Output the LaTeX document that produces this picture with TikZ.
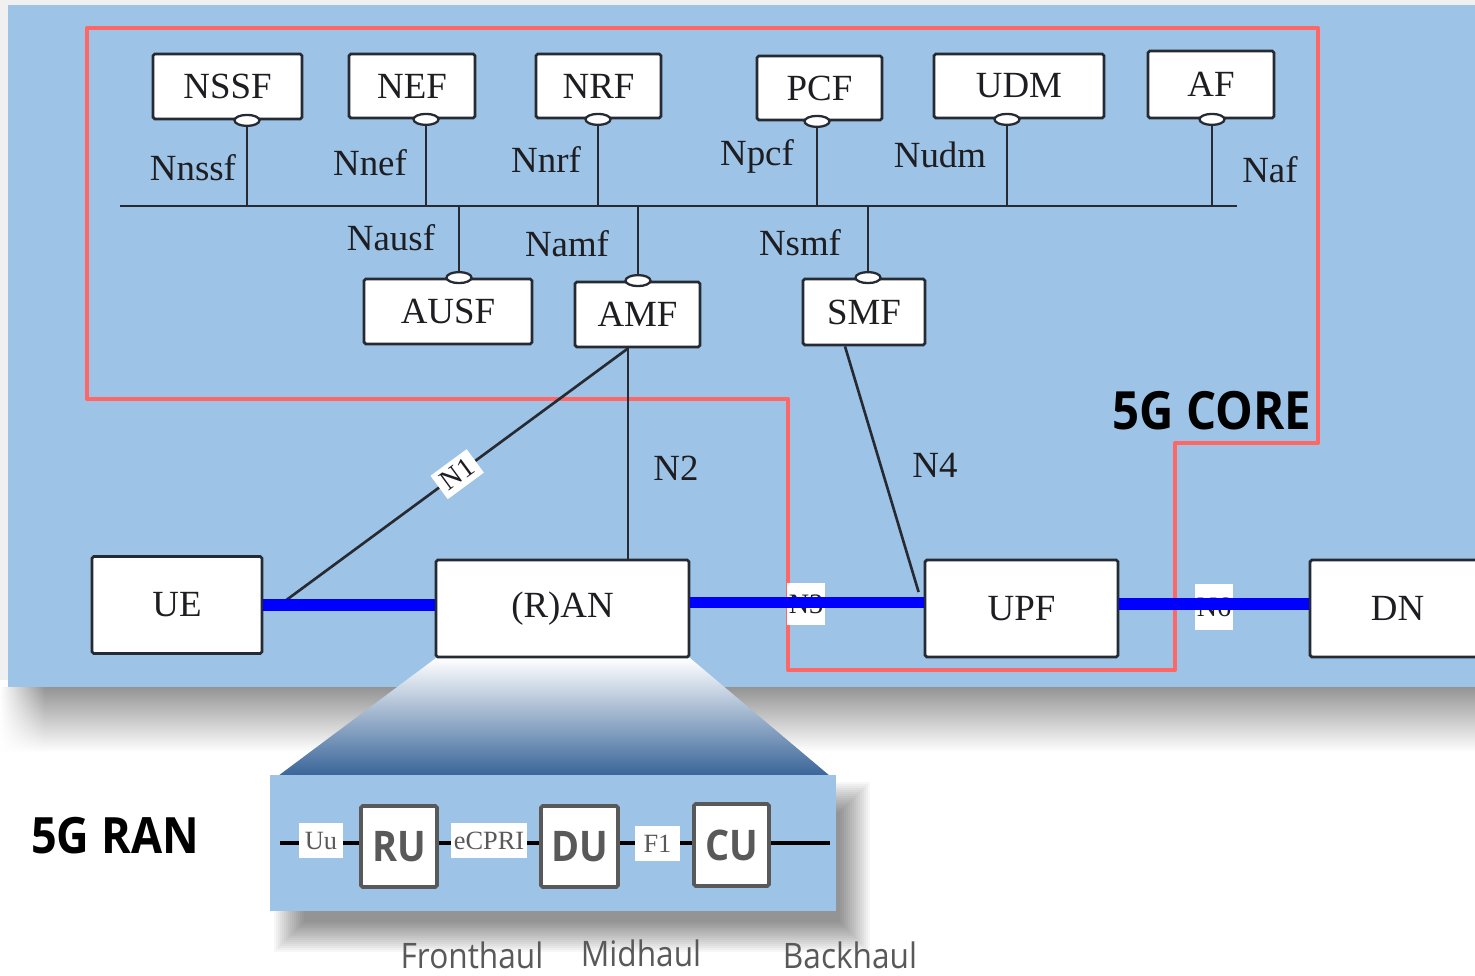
\documentclass[tikz,border=0pt]{standalone}
\usepackage{fontspec}
\setmainfont{Liberation Serif}
\newfontfamily\headfont[FakeStretch=0.9]{Open Sans}
\usetikzlibrary{fadings,calc}
\definecolor{panelblue}{RGB}{157,195,230}
\definecolor{corered}{RGB}{255,102,102}
\definecolor{nfline}{RGB}{38,42,50}
\definecolor{nftext}{RGB}{30,30,34}
\definecolor{upblue}{RGB}{0,0,255}
\definecolor{rangrey}{RGB}{89,89,89}
\definecolor{fandeep}{RGB}{56,100,152}
\definecolor{fanmid}{RGB}{196,203,218}
\newcommand\nffont{\fontsize{21pt}{24pt}\selectfont}
\newcommand\tagfont{\fontsize{15pt}{17pt}\selectfont}
\tikzset{
  sz/.style 2 args={minimum width=#1*0.02cm, minimum height=#2*0.02cm},
  nfbox/.style={draw=nfline, fill=white, line width=1.6pt, rounded corners=1pt,
    inner sep=0pt, font=\nffont, text=nftext},
  iflabel/.style={inner sep=0pt, font=\nffont, text=nftext},
  bus/.style={draw=nfline, line width=1.6pt},
  port/.style={draw=nfline, fill=white, line width=1.3pt},
  ctl/.style={draw=nfline, line width=1.5pt},
  uplane/.style={draw=upblue, line width=6.8pt},
  reftag/.style={fill=white, inner sep=1pt, font=\fontsize{16pt}{18pt}\selectfont, text=nftext},
  ranbox/.style={draw=rangrey, fill=white, line width=2.2pt, rounded corners=1pt,
    inner sep=0pt, font=\headfont\bfseries\fontsize{24pt}{26pt}\selectfont, text=rangrey},
  rantag/.style={fill=white, inner sep=0pt, font=\tagfont, text=rangrey},
  haul/.style={font=\headfont\fontsize{20pt}{22pt}\selectfont, text=rangrey, inner sep=0pt},
  title/.style={font=\headfont\bfseries, text=black, inner sep=0pt}
}
\begin{document}
\begin{tikzpicture}[x=0.02cm, y=-0.02cm]
\useasboundingbox (0,0) rectangle (1475,976);
% page and the core panel with its drop shadow
\fill[white] (0,0) rectangle (1475,976);
\fill[black!6] (0,0) rectangle (1475,690);
\shade[top color=black!42, bottom color=white] (0,687) rectangle (1475,752);
\fill[white, path fading=east] (0,680) rectangle (45,760);
\fill[panelblue] (8,5) rectangle (1475,687);

% soft shadow of the RAN close-up panel, offset down and right
\foreach \k in {0,...,15}
  \fill[black, opacity=0.032] (274+2*\k,782+2*\k) rectangle (870-2*\k,952-2*\k);

% zoom fan from the (R)AN box down to the close-up
\shade[top color=white, middle color=fanmid, bottom color=fandeep]
  (436,658) -- (690,658) -- (830,776) -- (278,776) -- cycle;
\fill[panelblue] (270,775) rectangle (836,911);

% outline of the 5G core
\draw[corered, line width=2.3pt, line join=round]
  (87,28) -- (1318,28) -- (1318,443) -- (1175,443) -- (1175,670)
  -- (788,670) -- (788,399) -- (87,399) -- cycle;

% network functions on the service bus
\node[nfbox, sz={149}{65}] (nssf) at (227.5,86.5) {NSSF};
\node[nfbox, sz={126}{64}] (nef)  at (412,86)    {NEF};
\node[nfbox, sz={125}{64}] (nrf)  at (598.5,86)  {NRF};
\node[nfbox, sz={125}{64}] (pcf)  at (819.5,88)  {PCF};
\node[nfbox, sz={170}{64}] (udm)  at (1019,86)   {UDM};
\node[nfbox, sz={126}{67}] (af)   at (1211,84.5) {AF};
\node[nfbox, sz={168}{65}] (ausf) at (448,311.5) {AUSF};
\node[nfbox, sz={125}{65}] (amf)  at (637.5,314.5) {AMF};
\node[nfbox, sz={122}{66}] (smf)  at (864,312)   {SMF};

\coordinate (busW) at (120,206);
\coordinate (busE) at (1237,206);
\draw[bus] (busW) -- (busE);

\foreach \nm/\xx in {nssf/247, nef/426, nrf/598, pcf/817, udm/1007, af/1212}{
  \coordinate (tap-\nm) at (\xx,206);
  \draw[bus] (tap-\nm) -- (tap-\nm |- \nm.south);
  \draw[port] (tap-\nm |- \nm.south) ellipse [x radius=0.25cm, y radius=0.11cm];
}
\foreach \nm/\xx in {ausf/459, amf/638, smf/868}{
  \coordinate (tap-\nm) at (\xx,206);
  \draw[bus] (tap-\nm) -- (tap-\nm |- \nm.north);
  \draw[port] (tap-\nm |- \nm.north) ellipse [x radius=0.25cm, y radius=0.11cm];
}

% service interface names
\node[iflabel] at (193,168) {Nnssf};
\node[iflabel] at (370,163) {Nnef};
\node[iflabel] at (546,160) {Nnrf};
\node[iflabel] at (757,156) {Npcf};
\node[iflabel] at (940,155) {Nudm};
\node[iflabel] at (1270,170) {Naf};
\node[iflabel] at (391,238) {Nausf};
\node[iflabel] at (567,244) {Namf};
\node[iflabel] at (800,243) {Nsmf};

% access and user-plane functions
\node[nfbox, sz={170}{97}] (ue)  at (177,605)    {UE};
\node[nfbox, sz={253}{97}] (ran) at (562.5,608.5) {(R)AN};
\node[nfbox, sz={193}{97}] (upf) at (1021.5,608.5) {UPF};
\node[nfbox, sz={175}{97}] (dn)  at (1397.5,608.5) {DN};

% control-plane reference points
\coordinate (amfs) at ([xshift=-0.19cm]amf.south);
\coordinate (uen1) at ([shift={(0.46cm,0.1cm)}]ue.east);
\coordinate (smfs) at ([xshift=-0.38cm]smf.south);
\coordinate (upfn4) at ([shift={(-0.1cm,0.33cm)}]upf.west);
\draw[ctl] (amfs) -- node[reftag, sloped, pos=0.5, inner sep=3pt] {N1} (uen1);
\draw[ctl] (amfs) -- (amfs |- ran.north);
\draw[ctl] (smfs) -- (upfn4);
\node[iflabel] at (676,468) {N2};
\node[iflabel] at (935,465) {N4};

% user-plane reference points
\node[reftag, sz={32}{42}] (n3tag) at (806,604) {N3};
\node[reftag, sz={37}{45}] (n6tag) at (1214,607) {N6};
\draw[uplane] (ue.east) -- (ue.east -| ran.west);
\draw[uplane] ([yshift=0.12cm]ran.east) -- ([yshift=0.12cm]ran.east -| upf.west);
\draw[uplane] ([yshift=0.09cm]upf.east) -- ([yshift=0.09cm]upf.east -| dn.west);

\node[title, font=\headfont\bfseries\fontsize{30pt}{32pt}\selectfont] at (1212,411) {5G CORE};

% RAN split close-up
\coordinate (ranL) at (280,843);
\coordinate (ranR) at (830,843);
\draw[black, line width=2.8pt] (ranL) -- (ranR);
\node[rantag, sz={44}{35}] (uu) at (321,840.5) {Uu};
\node[ranbox, sz={76}{81}] (ru) at (399,846.5) {RU};
\node[rantag, sz={76}{35}] (ecpri) at (489,840.5) {eCPRI};
\node[ranbox, sz={77}{81}] (du) at (579.5,846.5) {DU};
\node[rantag, sz={45}{35}] (f1) at (657.5,843.5) {F1};
\node[ranbox, sz={75}{82}] (cu) at (731.5,845) {CU};

\node[title, font=\headfont\bfseries\fontsize{28.5pt}{30pt}\selectfont] at (115,836) {5G RAN};
\node[haul] at (472,955) {Fronthaul};
\node[haul] at (641,953) {Midhaul};
\node[haul] at (850,955) {Backhaul};
\end{tikzpicture}
\end{document}
